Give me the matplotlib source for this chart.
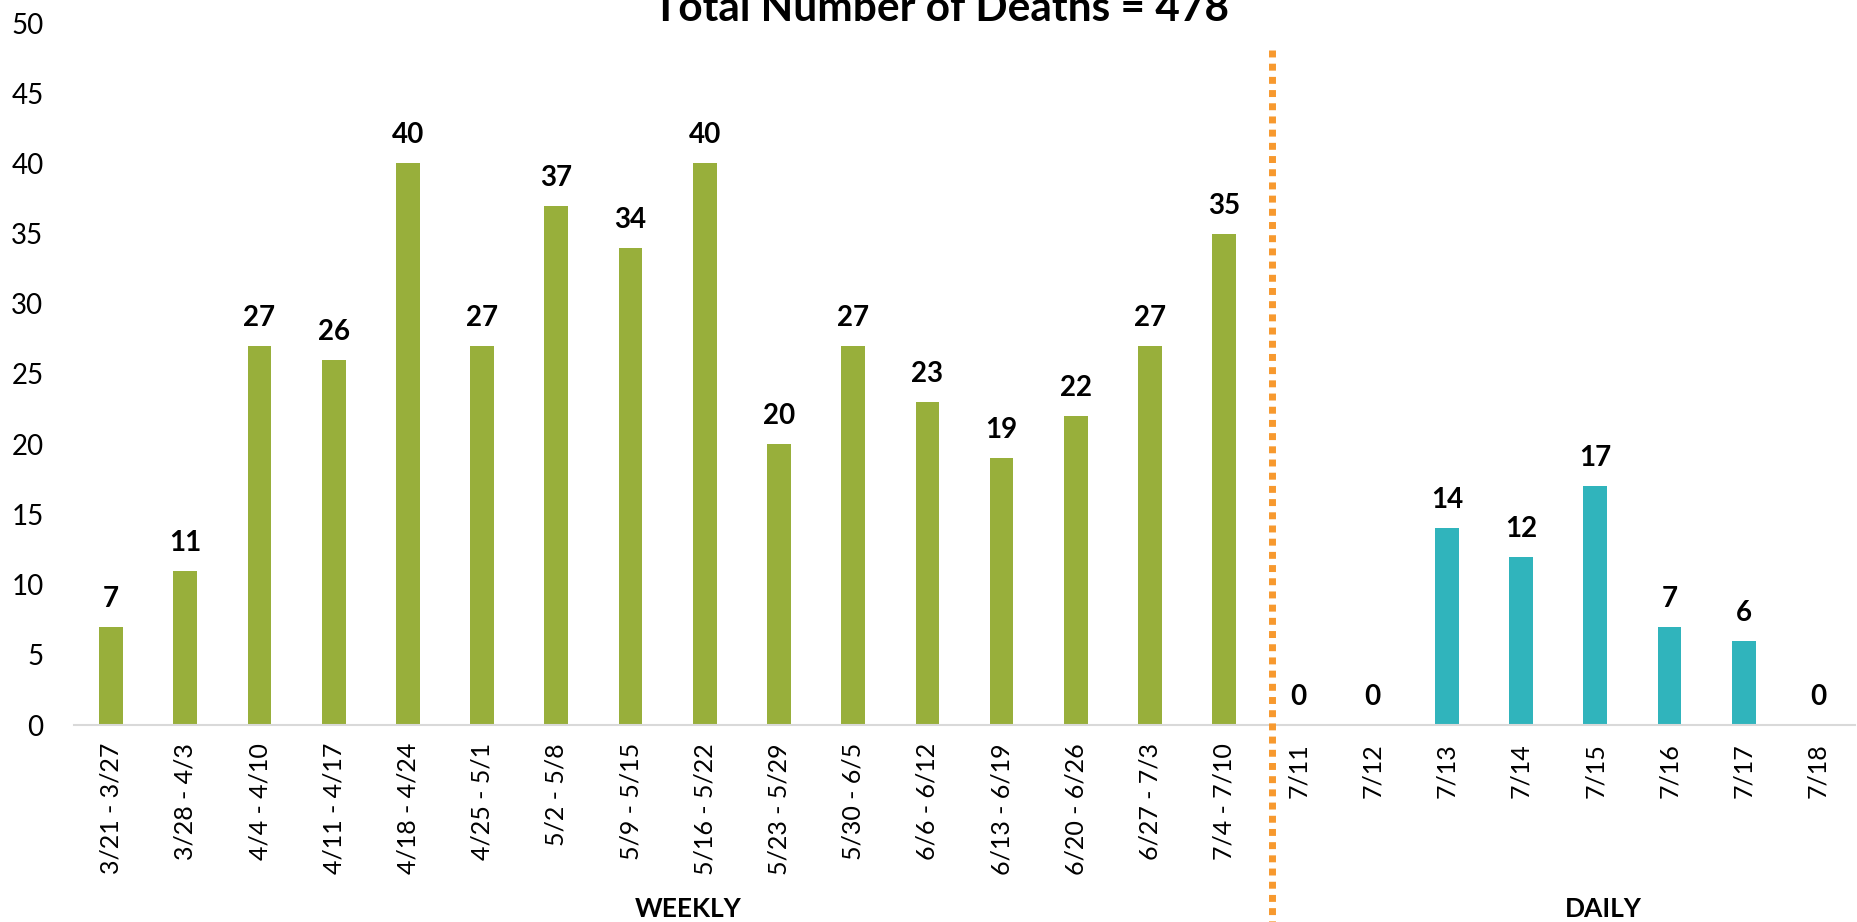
import matplotlib
matplotlib.use("Agg")
import matplotlib.pyplot as plt
from matplotlib.lines import Line2D

plt.rcParams['font.family'] = ['Lato', 'DejaVu Sans']

title = "Total Number of Deaths = 478"
weekly_labels = ["3/21 - 3/27", "3/28 - 4/3", "4/4 - 4/10", "4/11 - 4/17", "4/18 - 4/24",
                 "4/25 - 5/1", "5/2 - 5/8", "5/9 - 5/15", "5/16 - 5/22", "5/23 - 5/29",
                 "5/30 - 6/5", "6/6 - 6/12", "6/13 - 6/19", "6/20 - 6/26", "6/27 - 7/3",
                 "7/4 - 7/10"]
weekly_values = [7, 11, 27, 26, 40, 27, 37, 34, 40, 20, 27, 23, 19, 22, 27, 35]
daily_labels = ["7/11", "7/12", "7/13", "7/14", "7/15", "7/16", "7/17", "7/18"]
daily_values = [0, 0, 14, 12, 17, 7, 6, 0]
yticks = [0, 5, 10, 15, 20, 25, 30, 35, 40, 45, 50]

GREEN = "#98AF3B"
TEAL = "#30B4BC"
ORANGE = "#F7992E"

W, H = 1858, 922
fig = plt.figure(figsize=(W / 100, H / 100), dpi=100)
ax = fig.add_axes([74 / W, (H - 725) / H, (1855 - 74) / W, (725 - 23) / H])

labels = weekly_labels + daily_labels
values = weekly_values + daily_values
colors = [GREEN] * len(weekly_values) + [TEAL] * len(daily_values)
x = list(range(len(labels)))

bars = ax.bar(x, values, width=0.32, color=colors, zorder=2)
for xi, v in zip(x, values):
    ax.annotate(str(v), (xi, v), xytext=(0, 14.4), textcoords="offset points",
                ha="center", va="baseline", fontsize=20, fontweight="bold", color="black")

ax.set_xlim(-0.5, len(labels) - 0.5)
ax.set_ylim(0, 50)
ax.set_yticks(yticks)
ax.set_xticks(x)
ax.set_xticklabels(labels, rotation=90, fontsize=18)
ax.tick_params(axis="y", length=0, pad=22, labelsize=20)
ax.tick_params(axis="x", length=0, pad=13)
for s in ["top", "right", "left"]:
    ax.spines[s].set_visible(False)
ax.spines["bottom"].set_color("#D9D9D9")
ax.spines["bottom"].set_linewidth(1.5)

# divider line between weekly and daily
xd = 1271.7 / W
fig.add_artist(Line2D([xd, xd], [(H - 50) / H, 0], transform=fig.transFigure,
                      color=ORANGE, linewidth=5, linestyle=(0, (1, 0.9)),
                      solid_capstyle="butt", dash_capstyle="butt"))

fig.text(941 / W, (H - 21) / H, title, ha="center", va="baseline",
         fontsize=30.5, fontweight="bold")
fig.text(688 / W, (H - 917) / H, "WEEKLY", ha="center", va="baseline",
         fontsize=19, fontweight="bold")
fig.text(1603 / W, (H - 917) / H, "DAILY", ha="center", va="baseline",
         fontsize=19, fontweight="bold")

fig.savefig("out.png", dpi=100)
